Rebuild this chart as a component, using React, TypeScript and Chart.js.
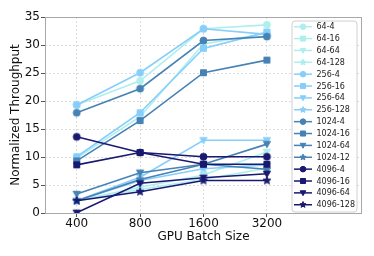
import React, { useEffect, useRef } from "react";
import { Chart, registerables } from "chart.js";

Chart.register(...registerables);

// ---- data ----
const batchSizes = ["400", "800", "1600", "3200"];
const yTickValues = [0, 5, 10, 15, 20, 25, 30, 35];

const s64_4 = [19.3, 23.6, 32.9, 33.6];
const s64_16 = [9.8, 17.2, 30.2, 32.1];
const s64_64 = [2.2, 4.6, 6.8, 10.9];
const s64_128 = [2.2, 4.2, 6.0, 8.0];
const s256_4 = [19.3, 25.05, 32.9, 31.9];
const s256_16 = [10.05, 17.9, 29.4, 32.3];
const s256_64 = [2.2, 6.4, 13.0, 13.0];
const s256_128 = [2.2, 5.8, 7.9, 8.6];
const s1024_4 = [17.9, 22.2, 30.8, 31.5];
const s1024_16 = [9.3, 16.5, 25.05, 27.3];
const s1024_64 = [3.4, 7.2, 8.7, 12.3];
const s1024_12 = [2.2, 6.0, 8.7, 7.8];
const s4096_4 = [13.6, 10.8, 10.05, 10.05];
const s4096_16 = [8.6, 10.8, 8.7, 8.7];
const s4096_64 = [0.05, 5.3, 6.3, 7.0];
const s4096_128 = [2.2, 3.8, 5.8, 5.8];

const seriesNames = [
  "64-4", "64-16", "64-64", "64-128",
  "256-4", "256-16", "256-64", "256-128",
  "1024-4", "1024-16", "1024-64", "1024-12",
  "4096-4", "4096-16", "4096-64", "4096-128",
];
const seriesValues = [
  s64_4, s64_16, s64_64, s64_128,
  s256_4, s256_16, s256_64, s256_128,
  s1024_4, s1024_16, s1024_64, s1024_12,
  s4096_4, s4096_16, s4096_64, s4096_128,
];

// ---- styles ----
const groupColors = ["#afeeee", "#87cefa", "#4682b4", "#191970"];
const markerKinds = ["circle", "square", "tridown", "star"];
const FONT = "'DejaVu Sans', sans-serif";

function drawMarker(ctx: CanvasRenderingContext2D, kind: string, x: number, y: number, r: number, color: string) {
  ctx.save();
  ctx.fillStyle = color;
  ctx.strokeStyle = color;
  ctx.lineWidth = 1;
  ctx.beginPath();
  if (kind === "circle") {
    ctx.arc(x, y, r, 0, Math.PI * 2);
  } else if (kind === "square") {
    ctx.rect(x - r * 0.9, y - r * 0.9, r * 1.8, r * 1.8);
  } else if (kind === "tridown") {
    ctx.moveTo(x - r, y - r * 0.75);
    ctx.lineTo(x + r, y - r * 0.75);
    ctx.lineTo(x, y + r);
    ctx.closePath();
  } else {
    for (let k = 0; k < 10; k++) {
      const rr = k % 2 === 0 ? r * 1.15 : r * 0.5;
      const a = -Math.PI / 2 + (k * Math.PI) / 5;
      const px = x + rr * Math.cos(a);
      const py = y + rr * Math.sin(a);
      if (k === 0) ctx.moveTo(px, py);
      else ctx.lineTo(px, py);
    }
    ctx.closePath();
  }
  ctx.fill();
  ctx.stroke();
  ctx.restore();
}

function makeMarkerImage(kind: string, r: number, color: string) {
  const c = document.createElement("canvas");
  const size = Math.ceil(r * 2 + 4);
  c.width = size;
  c.height = size;
  const ctx = c.getContext("2d")!;
  drawMarker(ctx, kind, size / 2, size / 2, r, color);
  return c;
}

const overlayPlugin = {
  id: "overlay",
  afterDatasetsDraw(chart: any) {
    const { ctx, chartArea } = chart;
    ctx.save();
    ctx.strokeStyle = "#a8a8a8";
    ctx.lineWidth = 1;
    ctx.strokeRect(
      Math.round(chartArea.left) + 0.5,
      Math.round(chartArea.top) + 0.5,
      Math.round(chartArea.right - chartArea.left) - 1,
      Math.round(chartArea.bottom - chartArea.top)
    );
    ctx.restore();
  },
  afterDraw(chart: any) {
    const { ctx } = chart;
    const left = 292, top = 21, w = 65, h = 191;
    ctx.save();
    ctx.beginPath();
    const rad = 3;
    ctx.moveTo(left + rad, top);
    ctx.arcTo(left + w, top, left + w, top + h, rad);
    ctx.arcTo(left + w, top + h, left, top + h, rad);
    ctx.arcTo(left, top + h, left, top, rad);
    ctx.arcTo(left, top, left + w, top, rad);
    ctx.closePath();
    ctx.fillStyle = "rgba(255,255,255,0.85)";
    ctx.fill();
    ctx.strokeStyle = "#d0d0d0";
    ctx.lineWidth = 1;
    ctx.stroke();
    ctx.font = `8px ${FONT}`;
    ctx.textBaseline = "middle";
    ctx.textAlign = "left";
    const rowH = 11.87;
    seriesNames.forEach((name, i) => {
      const color = groupColors[Math.floor(i / 4)];
      const kind = markerKinds[i % 4];
      const y = top + 5.7 + i * rowH;
      ctx.strokeStyle = color;
      ctx.lineWidth = 1.5;
      ctx.beginPath();
      ctx.moveTo(294, y);
      ctx.lineTo(312, y);
      ctx.stroke();
      drawMarker(ctx, kind, 303, y, 2.8, color);
      ctx.fillStyle = "#222";
      ctx.fillText(name, 316.5, y + 0.5);
    });
    ctx.restore();
  },
};

export default function App() {
  const ref = useRef<HTMLCanvasElement | null>(null);

  useEffect(() => {
    document.body.style.margin = "0";
    const canvas = ref.current!;
    const datasets = seriesNames.map((name, i) => {
      const color = groupColors[Math.floor(i / 4)];
      const kind = markerKinds[i % 4];
      const r = kind === "square" ? 3.3 : kind === "circle" ? 3.5 : 3.6;
      const img = makeMarkerImage(kind, r, color);
      return {
        label: name,
        data: seriesValues[i].map((v, j) => ({ x: j, y: v })),
        borderColor: color,
        backgroundColor: color,
        borderWidth: 1.6,
        pointStyle: img as any,
        pointRadius: 4,
        order: seriesNames.length - i,
      };
    });

    const chart = new Chart(canvas, {
      type: "line",
      data: { datasets },
      options: {
        animation: false,
        responsive: false,
        devicePixelRatio: 1,
        layout: { padding: { top: 17, right: 12, left: 0, bottom: 0 } },
        plugins: { legend: { display: false }, tooltip: { enabled: false } },
        scales: {
          x: {
            type: "linear",
            min: -0.5,
            max: 4.5,
            afterBuildTicks: (scale: any) => {
              scale.ticks = batchSizes.map((_, i) => ({ value: i }));
            },
            afterFit: (scale: any) => {
              scale.height = 43;
            },
            ticks: {
              callback: (v: any) => batchSizes[v as number] ?? "",
              font: { family: FONT, size: 12 },
              color: "#111",
              padding: 0,
              maxRotation: 0,
            },
            grid: { color: "#dcdcdc", tickColor: "#555", tickLength: 4, lineWidth: 1 },
            border: { display: false, dash: [2, 2] },
            title: {
              display: true,
              text: "GPU Batch Size",
              font: { family: FONT, size: 12 },
              color: "#111",
              padding: { top: 0, bottom: 12 },
            },
          },
          y: {
            min: 0,
            max: 35,
            afterBuildTicks: (scale: any) => {
              scale.ticks = yTickValues.map((v) => ({ value: v }));
            },
            afterFit: (scale: any) => {
              scale.width = 45;
            },
            ticks: {
              font: { family: FONT, size: 12 },
              color: "#111",
              padding: 1,
            },
            grid: { color: "#dcdcdc", tickColor: "#555", tickLength: 4, lineWidth: 1 },
            border: { display: false, dash: [2, 2] },
            title: {
              display: true,
              text: "Normalized Throughput",
              font: { family: FONT, size: 12 },
              color: "#111",
              padding: { top: 9, bottom: 0 },
            },
          },
        },
      },
      plugins: [overlayPlugin],
    });
    return () => chart.destroy();
  }, []);

  return (
    <div style={{ width: 374, height: 256, position: "relative" }}>
      <canvas ref={ref} width={374} height={256} style={{ width: 374, height: 256, display: "block" }} />
    </div>
  );
}
